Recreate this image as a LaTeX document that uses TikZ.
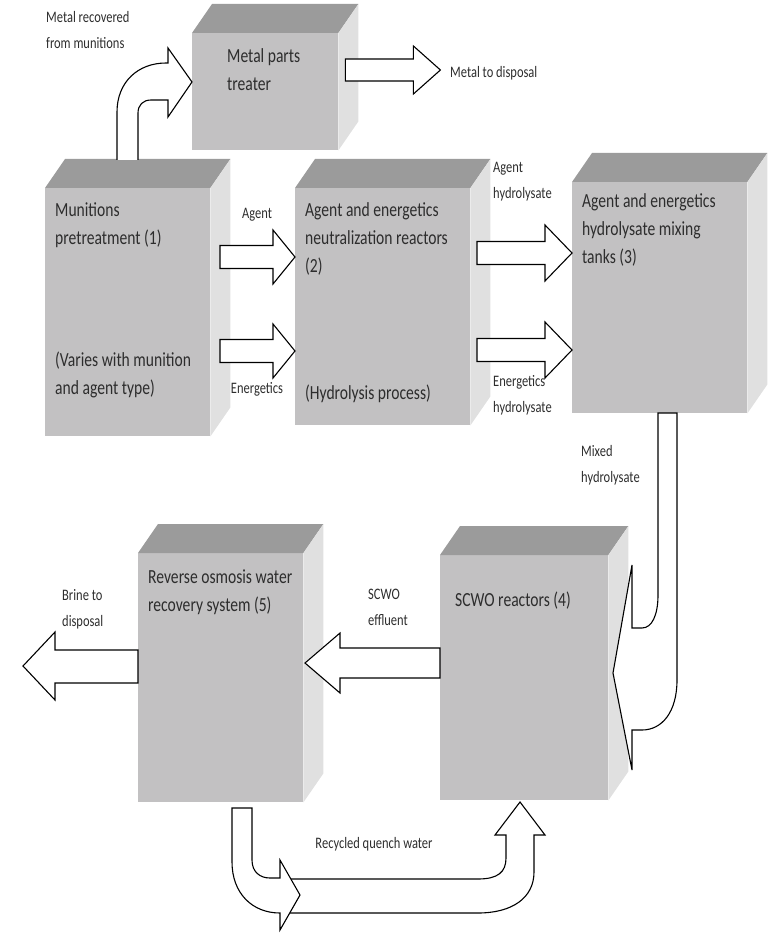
\documentclass[tikz,border=0pt]{standalone}
\usepackage{fontspec}
\setmainfont{Carlito}[FakeStretch=0.78]
\usepackage{xcolor}
\usepackage{tikz}
\usetikzlibrary{calc}

\definecolor{topgray}{RGB}{155,155,155}
\definecolor{frontgray}{RGB}{194,193,194}
\definecolor{sidegray}{RGB}{224,224,224}
\definecolor{inkgray}{RGB}{45,45,45}

\begin{document}
\begin{tikzpicture}[x=1pt,y=-1pt,
  front/.style={fill=frontgray,anchor=north west},
  topface/.style={fill=topgray},
  sideface/.style={fill=sidegray},
  boxtext/.style={anchor=north west,align=left,text=inkgray,font=\fontsize{20}{28}\selectfont,execute at begin node=\strut},
  flowlabel/.style={align=left,text=inkgray,font=\fontsize{16}{26}\selectfont,execute at begin node=\strut},
  blockarrow/.style={draw=black,fill=white,line width=1.1pt,line join=miter}]
\tikzstyle{every node}+=[inner sep=0pt]
\useasboundingbox (0,0) rectangle (769,933);
\node[front,minimum width=165pt,minimum height=248pt] (pre) at (45,188) {};
\node[front,minimum width=175pt,minimum height=237pt] (neut) at (295,188) {};
\node[front,minimum width=175pt,minimum height=231pt] (mix) at (572,182) {};
\node[front,minimum width=146pt,minimum height=117pt] (metal) at (192,33) {};
\node[front,minimum width=165pt,minimum height=249pt] (ro) at (138,553) {};
\node[front,minimum width=168pt,minimum height=245pt] (scwo) at (440,555) {};
\foreach \b in {pre,neut,mix,metal,ro,scwo} {
  \fill[topface] (\b.north west) -- ++(20,-29) -- ([shift={(20,-29)}]\b.north east) -- (\b.north east) -- cycle;
  \fill[sideface] (\b.north east) -- ++(20,-29) -- ([shift={(20,-29)}]\b.south east) -- (\b.south east) -- cycle;
}
\node[boxtext] (pre-name) at ([shift={(10,14)}]pre.north west) {Munitions\\pretreatment (1)};
\node[boxtext] (pre-note) at ([shift={(10,164)}]pre.north west) {(Varies with munition\\and agent type)};
\node[boxtext] (neut-name) at ([shift={(10,14)}]neut.north west) {Agent and energetics\\neutralization reactors\\(2)};
\node[boxtext] (neut-note) at ([shift={(10,192)}]neut.north west) {(Hydrolysis process)};
\node[boxtext] (mix-name) at ([shift={(10,11)}]mix.north west) {Agent and energetics\\hydrolysate mixing\\tanks (3)};
\node[boxtext] (metal-name) at ([shift={(35,15)}]metal.north west) {Metal parts\\treater};
\node[boxtext] (ro-name) at ([shift={(10,17)}]ro.north west) {Reverse osmosis water\\recovery system (5)};
\node[boxtext] (scwo-name) at ([shift={(15,32)}]scwo.north west) {SCWO reactors (4)};
\node[flowlabel,anchor=north west] (l-metalin) at (46,11) {Metal recovered\\from munitions};
\node[flowlabel,anchor=north west] (l-metalout) at (450,59) {Metal to disposal};
\node[flowlabel,anchor=north] (l-agent) at (257,200) {Agent};
\node[flowlabel,anchor=north] (l-energ) at (257,375) {Energetics};
\node[flowlabel,anchor=north west] (l-agenthyd) at (493,162) {Agent\\hydrolysate};
\node[flowlabel,anchor=north west] (l-energhyd) at (493,375) {Energetics\\hydrolysate};
\node[flowlabel,anchor=north west] (l-mixed) at (581,445) {Mixed\\hydrolysate};
\node[flowlabel,anchor=north west] (l-brine) at (62,589) {Brine to\\disposal};
\node[flowlabel,anchor=north west] (l-effl) at (368,589) {SCWO\\effluent};
\node[flowlabel,anchor=north] (l-quench) at (374,830) {Recycled quench water};
\draw[blockarrow] (117,160) -- (117,112) .. controls (117,82) and (138,63) .. (166,63) -- (168,63) -- (168,48) -- (192,82) -- (168,117) -- (168,100) -- (151,100) .. controls (143,100) and (138,105) .. (138,113) -- (138,160);
\draw[blockarrow] ([shift={(102,37)}]metal.north east) -- ++(-27,-24) -- ++(0,13) -- ++(-68,0) -- ++(0,22) -- ++(68,0) -- ++(0,13) -- cycle;
\draw[blockarrow] ([shift={(0,69)}]neut.north west) -- ++(-22,-27) -- ++(0,15.5) -- ++(-53,0) -- ++(0,23) -- ++(53,0) -- ++(0,15.5) -- cycle;
\draw[blockarrow] ([shift={(0,163)}]neut.north west) -- ++(-22,-27) -- ++(0,15.5) -- ++(-53,0) -- ++(0,23) -- ++(53,0) -- ++(0,15.5) -- cycle;
\draw[blockarrow] ([shift={(0,71)}]mix.north west) -- ++(-27,-28) -- ++(0,16.5) -- ++(-68,0) -- ++(0,23) -- ++(68,0) -- ++(0,16.5) -- cycle;
\draw[blockarrow] ([shift={(0,168)}]mix.north west) -- ++(-27,-28) -- ++(0,16.5) -- ++(-68,0) -- ++(0,23) -- ++(68,0) -- ++(0,16.5) -- cycle;
\draw[blockarrow] (658,413) -- (677,413) -- (677,680) .. controls (677,712) and (662,730) .. (642,730) -- (632,730) -- (632,770) -- (613,673) -- (632,565) -- (632,628) -- (642,628) .. controls (652,628) and (658,615) .. (658,595) -- cycle;
\draw[blockarrow] ([shift={(0,93)}]scwo.north west) -- ++(-100,0) -- ++(0,-15) -- ++(-35,30) -- ++(35,30) -- ++(0,-15) -- ++(100,0) -- cycle;
\draw[blockarrow] ([shift={(0,97)}]ro.north west) -- ++(-83,0) -- ++(0,-18) -- ++(-32,34) -- ++(32,34) -- ++(0,-17) -- ++(83,0) -- cycle;
\draw[blockarrow] (286,879) -- (478,879) .. controls (498,879) and (506,872) .. (506,858) -- (506,835) -- (495,835) -- (520,802) -- (545,835) -- (534,835) -- (534,872) .. controls (534,898) and (512,913) .. (478,913) -- (286,913) -- cycle;
\draw[blockarrow] (232,808) -- (252,808) -- (252,860) .. controls (252,872) and (260,878) .. (270,878) -- (280,878) -- (280,860) -- (300,895) -- (280,930) -- (280,913) .. controls (252,913) and (232,893) .. (232,862) -- cycle;
\end{tikzpicture}
\end{document}
